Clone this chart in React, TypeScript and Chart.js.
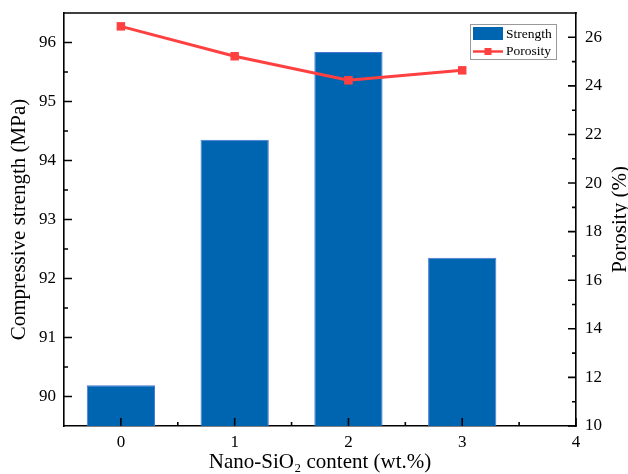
import React, { useEffect, useRef } from "react";
import { Chart, registerables } from "chart.js";

Chart.register(...registerables);

const contents = [0, 1, 2, 3];
const strength = [90.19, 94.35, 95.84, 92.35];
const porosity = [26.45, 25.22, 24.23, 24.64];

const xMajorTicks = [0, 1, 2, 3, 4];
const xMinorTicks = [0.5, 1.5, 2.5, 3.5];
const leftMajorTicks = [90, 91, 92, 93, 94, 95, 96];
const leftMinorTicks = [90.5, 91.5, 92.5, 93.5, 94.5, 95.5];
const rightMajorTicks = [10, 12, 14, 16, 18, 20, 22, 24, 26];
const rightMinorTicks = [11, 13, 15, 17, 19, 21, 23, 25];

const rightTitle = "Porosity (%)";

const FONT = "'Liberation Serif', 'Times New Roman', serif";
const BAR_COLOR = "#0065B0";
const LINE_COLOR = "#FF4040";

Chart.defaults.font.family = FONT;

const innerTicks = {
  id: "innerTicks",
  afterDatasetsDraw(chart: any) {
    const { ctx, chartArea } = chart;
    const { left, right, top, bottom } = chartArea;
    const x = chart.scales.x;
    const yL = chart.scales.y;
    const yR = chart.scales.y1;
    ctx.save();
    ctx.strokeStyle = "#000";
    ctx.lineWidth = 1.6;
    ctx.beginPath();
    const seg = (x1: number, y1: number, x2: number, y2: number) => {
      ctx.moveTo(x1, y1);
      ctx.lineTo(x2, y2);
    };
    xMajorTicks.forEach((v) => { const p = x.getPixelForValue(v); seg(p, bottom, p, bottom - 8); });
    xMinorTicks.forEach((v) => { const p = x.getPixelForValue(v); seg(p, bottom, p, bottom - 4); });
    leftMajorTicks.forEach((v) => { const p = yL.getPixelForValue(v); seg(left, p, left + 8, p); });
    leftMinorTicks.forEach((v) => { const p = yL.getPixelForValue(v); seg(left, p, left + 4, p); });
    rightMajorTicks.forEach((v) => { const p = yR.getPixelForValue(v); seg(right, p, right - 8, p); });
    rightMinorTicks.forEach((v) => { const p = yR.getPixelForValue(v); seg(right, p, right - 4, p); });
    seg(left - 0.8, top, right + 0.8, top);
    ctx.stroke();
    ctx.restore();
  },
};

const extras = {
  id: "extras",
  afterDraw(chart: any) {
    const { ctx, chartArea } = chart;
    // right axis title, reading bottom to top
    ctx.save();
    ctx.translate(620, (chartArea.top + chartArea.bottom) / 2);
    ctx.rotate(-Math.PI / 2);
    ctx.fillStyle = "#000";
    ctx.font = `21px ${FONT}`;
    ctx.textAlign = "center";
    ctx.textBaseline = "middle";
    ctx.fillText(rightTitle, 0, 0);
    ctx.restore();

    // legend
    const bx = chartArea.right - 106;
    const by = chartArea.top + 11;
    const bw = 86;
    const bh = 35;
    ctx.save();
    ctx.fillStyle = "#fff";
    ctx.fillRect(bx, by, bw, bh);
    ctx.strokeStyle = "#999";
    ctx.lineWidth = 1;
    ctx.strokeRect(bx + 0.5, by + 0.5, bw, bh);
    ctx.fillStyle = BAR_COLOR;
    ctx.fillRect(bx + 3, by + 3, 30, 13);
    ctx.strokeStyle = LINE_COLOR;
    ctx.lineWidth = 2.5;
    ctx.beginPath();
    ctx.moveTo(bx + 3, by + 27.5);
    ctx.lineTo(bx + 33, by + 27.5);
    ctx.stroke();
    ctx.fillStyle = LINE_COLOR;
    ctx.fillRect(bx + 14.5, by + 24, 7, 7);
    ctx.fillStyle = "#000";
    ctx.font = `13.5px ${FONT}`;
    ctx.textBaseline = "middle";
    ctx.textAlign = "left";
    ctx.fillText(chart.data.datasets[0].label, bx + 36, by + 10);
    ctx.fillText(chart.data.datasets[1].label, bx + 36, by + 27);
    ctx.restore();
  },
};

const noPad = (s: any) => {
  s.paddingTop = 0;
  s.paddingBottom = 0;
  s.paddingLeft = 0;
  s.paddingRight = 0;
};

export default function App() {
  const ref = useRef<HTMLCanvasElement | null>(null);

  useEffect(() => {
    document.body.style.margin = "0";
    const canvas = ref.current;
    if (!canvas) return;
    const chart = new Chart(canvas, {
      type: "bar",
      data: {
        datasets: [
          {
            type: "bar",
            label: "Strength",
            data: contents.map((c, i) => ({ x: c, y: strength[i] })),
            backgroundColor: BAR_COLOR,
            borderColor: "#4a78d8",
            borderWidth: 1,
            categoryPercentage: 1,
            barPercentage: 0.6,
            yAxisID: "y",
            order: 2,
          },
          {
            type: "line",
            label: "Porosity",
            data: contents.map((c, i) => ({ x: c, y: porosity[i] })),
            borderColor: LINE_COLOR,
            backgroundColor: LINE_COLOR,
            borderWidth: 3,
            pointStyle: "rect",
            pointRadius: 6,
            pointBorderWidth: 0,
            yAxisID: "y1",
            order: 1,
          } as any,
        ],
      },
      options: {
        responsive: false,
        animation: false,
        layout: { padding: { top: 13, left: 0, right: 0, bottom: 0 } },
        plugins: { legend: { display: false }, tooltip: { enabled: false } },
        scales: {
          x: {
            type: "linear",
            min: -0.5,
            max: 4,
            offset: false,
            grid: { display: false, drawTicks: false },
            border: { display: true, color: "#000", width: 1.6 },
            afterBuildTicks: (s: any) => { s.ticks = xMajorTicks.map((v) => ({ value: v })); },
            afterFit: (s: any) => { s.height = 48; noPad(s); },
            ticks: { color: "#000", font: { family: FONT, size: 17 }, padding: 6, maxRotation: 0 },
            title: {
              display: true,
              text: "Nano-SiO\u2082 content (wt.%)",
              color: "#000",
              font: { family: FONT, size: 21, lineHeight: 1 },
              padding: { top: 0, bottom: 1.5 },
            },
          },
          y: {
            type: "linear",
            position: "left",
            min: 89.5,
            max: 96.5,
            grid: { display: false, drawTicks: false },
            border: { display: true, color: "#000", width: 1.6 },
            afterBuildTicks: (s: any) => { s.ticks = leftMajorTicks.map((v) => ({ value: v })); },
            afterFit: (s: any) => { s.width = 64; noPad(s); },
            ticks: { color: "#000", font: { family: FONT, size: 17 }, padding: 8 },
            title: {
              display: true,
              text: "Compressive strength (MPa)",
              color: "#000",
              font: { family: FONT, size: 21, lineHeight: 1 },
              padding: { top: 8.5, bottom: 0 },
            },
          },
          y1: {
            type: "linear",
            position: "right",
            min: 10,
            max: 27,
            grid: { display: false, drawTicks: false },
            border: { display: true, color: "#000", width: 1.6 },
            afterBuildTicks: (s: any) => { s.ticks = rightMajorTicks.map((v) => ({ value: v })); },
            afterFit: (s: any) => { s.width = 52; noPad(s); },
            ticks: { color: "#000", font: { family: FONT, size: 17 }, padding: 9 },
          },
        },
      } as any,
      plugins: [innerTicks, extras],
    });
    return () => chart.destroy();
  }, []);

  return (
    <div style={{ width: 628, height: 474, background: "#fff" }}>
      <canvas ref={ref} width={628} height={474} style={{ display: "block" }} />
    </div>
  );
}
